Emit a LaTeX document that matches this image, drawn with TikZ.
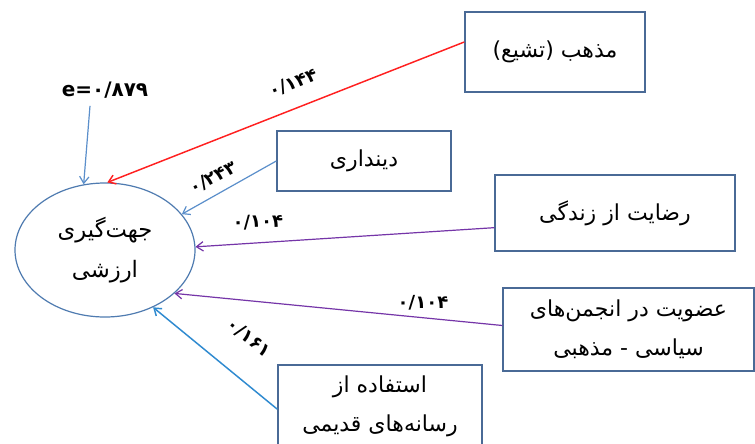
\documentclass[tikz,border=0pt]{standalone}
\usepackage{fontspec}
\newfontfamily\fa[Script=Arabic]{DejaVu Sans}
\TeXXeTstate=1
\usetikzlibrary{shapes.geometric,arrows.meta,calc}
\definecolor{boxc}{HTML}{4A6A96}
\definecolor{ellc}{HTML}{4F7BB0}
\definecolor{redc}{HTML}{FF2020}
\definecolor{bluec}{HTML}{5B8FCB}
\definecolor{purpc}{HTML}{7535A8}
\definecolor{blue2}{HTML}{2F8AD0}
\begin{document}
\begin{tikzpicture}[x=0.75pt,y=-0.75pt,
  box/.style={draw=boxc, line width=1.1pt, rectangle, align=center, inner sep=0pt,
    font=\fa\fontsize{16.5}{29}\selectfont},
  ell/.style={draw=ellc, line width=0.9pt, ellipse, align=center, inner sep=0pt,
    minimum width=135pt, minimum height=100.5pt, font=\fa\fontsize{17}{30}\selectfont},
  lab/.style={font=\fa\bfseries\fontsize{13.5}{15}\selectfont, inner sep=1pt},
  conn/.style={line width=0.9pt, -{Straight Barb[length=5pt,width=7pt]}}
]
\useasboundingbox (0,0) rectangle (755,443);
\fill[white] (0,0) rectangle (755,443);

% central ellipse
\node[ell] (c) at (105,250) {\beginR جهت‌گیری\endR\\\beginR ارزشی\endR};

% boxes
\node[box, minimum width=135pt, minimum height=60pt] (b1) at (555,52) {\beginR مذهب (تشیع)\endR};
\node[box, minimum width=130.5pt, minimum height=45pt] (b2) at (364,161) {\beginR دینداری\endR};
\node[box, minimum width=180pt, minimum height=57pt] (b3) at (615,213) {\beginR رضایت از زندگی\endR};
\node[box, minimum width=188pt, minimum height=62pt] (b4) at (628.5,329.5) {\beginR عضویت در انجمن‌های\endR\\\beginR سیاسی - مذهبی\endR};
\node[box, minimum width=153pt, minimum height=62pt] (b5) at (380,406.5) {\beginR استفاده از\endR\\\beginR رسانه‌های قدیمی\endR};

% error term
\node[lab, font=\fa\bfseries\fontsize{15}{17}\selectfont] (e) at (105,90) {e=۰/۸۷۹};
\coordinate (es) at ($(e.south)+(-15,6)$);
\draw[conn, bluec] (es) -- (c.108);

% connectors
\draw[conn, redc, line width=1.1pt] ([yshift=7.5pt]b1.west) -- (c.88);
\draw[conn, bluec] (b2.west) -- (c.25);
\draw[conn, purpc] ([yshift=-11pt]b3.west) -- (c.2.5);
\draw[conn, purpc] ([yshift=3pt]b4.west) -- (c.-32);
\draw[conn, blue2, line width=1.1pt] ([yshift=-2pt]b5.west) -- (c.-50);

% coefficient labels
\node[lab, rotate=21.5] (l1) at (293,83) {۰/۱۴۴};
\node[lab, rotate=28] (l2) at (213,178) {۰/۲۴۳};
\node[lab, rotate=2] (l3) at (258,222) {۰/۱۰۴};
\node[lab] (l4) at (423,303) {۰/۱۰۴};
\node[lab, rotate=-38] (l5) at (249,338) {۰/۱۶۱};
\end{tikzpicture}
\end{document}
